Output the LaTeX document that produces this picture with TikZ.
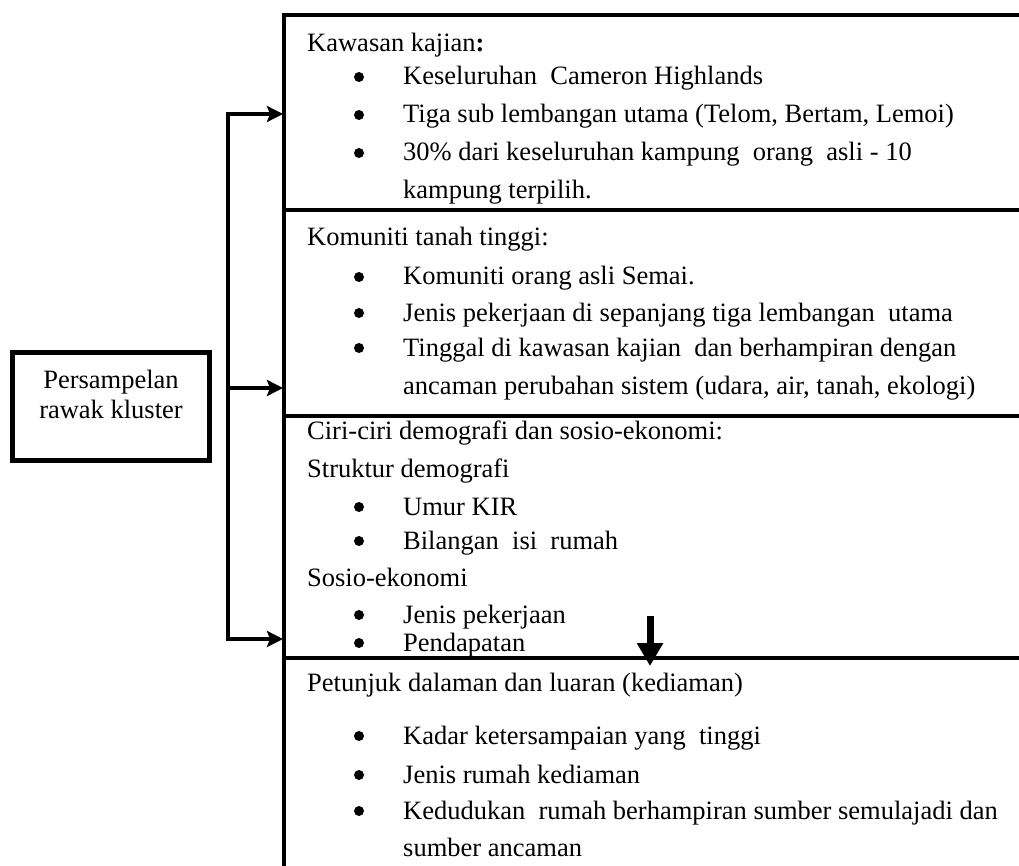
\documentclass[tikz,border=0pt]{standalone}
\usepackage{fontspec}
\setmainfont{Liberation Serif}
\usetikzlibrary{arrows.meta}
\begin{document}
\begin{tikzpicture}[x=1pt,y=-1pt,
  txt/.style={anchor=base west,inner sep=0pt,font=\fontsize{26.5}{30}\selectfont},
  bul/.style={circle,fill=black,minimum size=10pt,inner sep=0pt,yshift=8pt},
  frame/.style={line width=4pt},
  arr/.style={line width=3.5pt,-{Stealth[length=16pt,width=16pt,inset=3pt]}},
  bigarr/.style={line width=7pt,-{Triangle[length=23pt,width=25pt]}},
  boxst/.style={draw,line width=5pt,minimum width=197pt,minimum height=108pt,inner sep=0pt}]
\useasboundingbox (0,0) rectangle (1019,866);
% frame lines
\coordinate (ftop) at (284,13);
\coordinate (fbot) at (284,866);
\draw[frame] (ftop) -- (fbot);
\foreach \yy/\nm in {15/l0,210/l1,416/l2,658/l3}{
  \coordinate (\nm a) at (282,\yy);
  \coordinate (\nm b) at (1019,\yy);
  \draw[frame] (\nm a) -- (\nm b);
}
% left box
\node[boxst] (box) at (111,406.5) {};
\node[align=center,inner sep=0pt,font=\fontsize{26.5}{30}\selectfont] (boxtxt) at (111,394) {Persampelan\\rawak kluster};
% connectors
\coordinate (c1) at (228,114);
\coordinate (c2) at (228,388);
\coordinate (c3) at (228,639);
\coordinate (t1) at (283,114);
\coordinate (t2) at (283,388);
\coordinate (t3) at (283,639);
\draw[arr] (c3) |- (t1);
\draw[arr] (c1) |- (t3);
\draw[arr] (c2) -- (t2);
% section 1
\node[txt] (s1h) at (307,52) {Kawasan kajian\textbf{:}};
\node[bul] (b11) at (359,85) {};
\node[txt] (s11) at (403,85) {Keseluruhan\ \ Cameron Highlands};
\node[bul] (b12) at (359,123) {};
\node[txt] (s12) at (403,123) {Tiga sub lembangan utama (Telom, Bertam, Lemoi)};
\node[bul] (b13) at (359,161) {};
\node[txt] (s13) at (403,161) {30\% dari keseluruhan kampung\ \ orang\ \ asli - 10};
\node[txt] (s14) at (403,199) {kampung terpilih.};
% section 2
\node[txt] (s2h) at (307,246) {Komuniti tanah tinggi:};
\node[bul] (b21) at (359,285) {};
\node[txt] (s21) at (403,285) {Komuniti orang asli Semai.};
\node[bul] (b22) at (359,321) {};
\node[txt] (s22) at (403,321) {Jenis pekerjaan di sepanjang tiga lembangan\ \ utama};
\node[bul] (b23) at (359,356) {};
\node[txt] (s23) at (403,356) {Tinggal di kawasan kajian\ \ dan berhampiran dengan};
\node[txt] (s24) at (403,394) {ancaman perubahan sistem (udara, air, tanah, ekologi)};
% section 3
\node[txt] (s3h) at (307,439) {Ciri-ciri demografi dan sosio-ekonomi:};
\node[txt] (s3a) at (307,477) {Struktur demografi};
\node[bul] (b31) at (359,515) {};
\node[txt] (s31) at (403,515) {Umur KIR};
\node[bul] (b32) at (359,549) {};
\node[txt] (s32) at (403,549) {Bilangan\ \ isi\ \ rumah};
\node[txt] (s3b) at (307,586) {Sosio-ekonomi};
\node[bul] (b33) at (359,623) {};
\node[txt] (s33) at (403,623) {Jenis pekerjaan};
\node[bul] (b34) at (359,651) {};
\node[txt] (s34) at (403,651) {Pendapatan};
\fill[white] (288,656) rectangle (1019,670);
\draw[frame] (l3a) -- (l3b);
% down arrow
\coordinate (d1) at (650,616);
\coordinate (d2) at (650,666);
\draw[bigarr] (d1) -- (d2);
% section 4
\node[txt] (s4h) at (307,691) {Petunjuk dalaman dan luaran (kediaman)};
\node[bul] (b41) at (359,744) {};
\node[txt] (s41) at (403,744) {Kadar ketersampaian yang\ \ tinggi};
\node[bul] (b42) at (359,783) {};
\node[txt] (s42) at (403,783) {Jenis rumah kediaman};
\node[bul] (b43) at (359,819) {};
\node[txt] (s43) at (403,819) {Kedudukan\ \ rumah berhampiran sumber semulajadi dan};
\node[txt] (s44) at (403,856) {sumber ancaman};
\end{tikzpicture}
\end{document}
